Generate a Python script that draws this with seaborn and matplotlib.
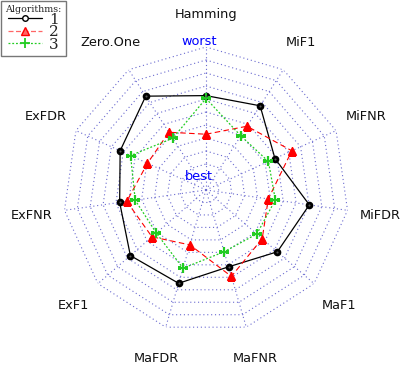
import numpy as np
import pandas as pd
import matplotlib
matplotlib.use("Agg")
import matplotlib.pyplot as plt
import seaborn as sns
from matplotlib.lines import Line2D

# axes of the radar, clockwise from the top
measures = ['Hamming', 'MiF1', 'MiFNR', 'MiFDR', 'MaF1', 'MaFNR',
            'MaFDR', 'ExF1', 'ExFNR', 'ExFDR', 'Zero.One']
# scores (0 = best, 1 = worst)
algo1 = [0.66, 0.70, 0.53, 0.73, 0.66, 0.56, 0.68, 0.70, 0.61, 0.66, 0.78]
algo2 = [0.39, 0.53, 0.66, 0.44, 0.52, 0.63, 0.40, 0.50, 0.56, 0.45, 0.48]
algo3 = [0.64, 0.45, 0.48, 0.49, 0.47, 0.45, 0.57, 0.46, 0.50, 0.58, 0.43]
algo_names = ['1', '2', '3']
n_rings = 11

sns.set_style("white")

n = len(measures)
theta = np.linspace(0, 2 * np.pi, n, endpoint=False)
theta_c = np.append(theta, theta[0])

fig = plt.figure(figsize=(4.07, 3.79), dpi=100)
ax = fig.add_axes([0.1548, 0.1214, 0.7027, 0.7546], projection='polar')
ax.set_theta_zero_location('N')
ax.set_theta_direction(-1)
ax.set_ylim(0, 1)
ax.grid(False)
ax.set_xticks([])
ax.set_yticks([])
ax.spines['polar'].set_visible(False)
ax.patch.set_alpha(0)

# polygon grid, dotted
grid_col = '#6a6ad0'
for k in range(1, n_rings + 1):
    r = k / n_rings
    ax.plot(theta_c, [r] * (n + 1), color=grid_col, lw=0.8, ls=(0, (1, 2.5)), zorder=1)
for t in theta:
    ax.plot([t, t], [0, 1], color=grid_col, lw=0.8, ls=(0, (1, 2.5)), zorder=1)

styles = [
    dict(color='black', ls='-', lw=0.9, marker='o', ms=4.5),
    dict(color='red', ls=(0, (5, 3)), lw=0.8, marker='^', ms=6),
    dict(color='#22cc22', ls=(0, (1.5, 1.5)), lw=0.9, marker='+', ms=7.5),
]

for vals, st in zip([algo1, algo2, algo3], styles):
    df = pd.DataFrame({'theta': theta_c, 'r': np.append(vals, vals[0])})
    sns.lineplot(data=df, x='theta', y='r', ax=ax, sort=False, estimator=None,
                 color=st['color'], linestyle=st['ls'], linewidth=st['lw'], zorder=3)
    if st['marker'] == '+':
        ax.plot(theta, vals, ls='none', marker='+', ms=st['ms'], mew=1.6,
                color=st['color'], zorder=4)
    else:
        ax.plot(theta, vals, ls='none', marker=st['marker'], ms=st['ms'],
                mfc=st['color'], mec=st['color'], zorder=4)
# light centre of the open circles
ax.plot(theta, algo1, ls='none', marker='o', ms=1.5, mfc='#555555', mec='none', zorder=5)

ax.set_xlabel('')
ax.set_ylabel('')

for t, lab in zip(theta, measures):
    ax.text(t, 1.23, lab, ha='center', va='center', fontsize=9.3,
            family='DejaVu Sans', color='#111111')

ax.text(-0.045, 1.04, 'worst', ha='center', va='center', color='blue', fontsize=9.3)
ax.text(-0.5, 0.11, 'best', ha='center', va='center', color='blue', fontsize=9.3)

handles = [
    Line2D([], [], color='black', lw=0.9, marker='o', ms=4, mfc='white', mec='black'),
    Line2D([], [], color='#ff6666', ls=(0, (4, 2)), lw=0.9, marker='^', ms=6,
           mfc='#ff6666', mec='red'),
    Line2D([], [], color='#22cc22', ls=(0, (1.5, 1.5)), lw=0.9, marker='+', ms=7, mew=1.3),
]
leg = fig.legend(handles, algo_names, loc='upper left', bbox_to_anchor=(0.002, 0.998),
                 title='Algorithms:', fancybox=False, framealpha=1, edgecolor='#777777',
                 prop={'family': 'DejaVu Serif', 'size': 11}, handlelength=2.2,
                 borderpad=0.3, labelspacing=-0.1, handletextpad=0.5,
                 borderaxespad=0)
leg.get_title().set_fontsize(6.8)
leg.get_title().set_family('DejaVu Serif')
leg.get_frame().set_linewidth(1.0)

fig.savefig('out.png', dpi=100)
